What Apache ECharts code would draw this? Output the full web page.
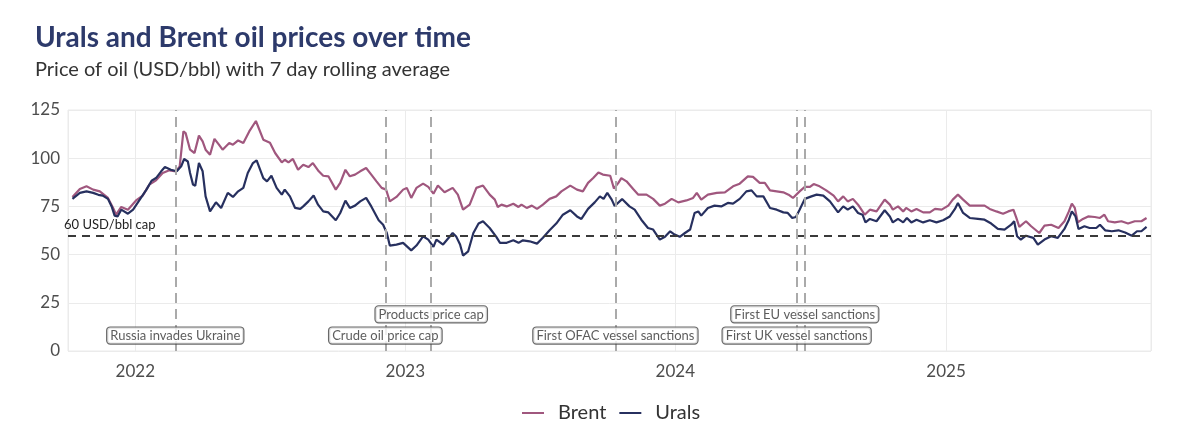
<!DOCTYPE html>
<html>
<head>
<meta charset="utf-8">
<script src="https://cdn.jsdelivr.net/npm/echarts@6/dist/echarts.min.js"></script>
<style>
html,body{margin:0;padding:0;background:#fff;}
#chart{width:1200px;height:441px;}
</style>
</head>
<body>
<div id="chart"></div>
<script>
const brent = [
['2021-10-08',79.9],['2021-10-18',84],['2021-10-27',85.4],['2021-11-05',83.7],['2021-11-14',82.8],['2021-11-25',79.4],['2021-12-02',74.2],['2021-12-06',70.7],['2021-12-13',74.7],['2021-12-22',73.3],
['2022-01-02',78.1],['2022-01-11',80.6],['2022-01-20',86.3],['2022-01-29',88.5],['2022-02-07',92.3],['2022-02-16',93.7],['2022-02-25',93.2],['2022-03-02',95.8],['2022-03-07',113.9],['2022-03-10',113],
['2022-03-16',104.4],['2022-03-22',102.7],['2022-03-28',111.7],['2022-04-02',108.7],['2022-04-06',104.4],['2022-04-12',101.8],['2022-04-18',110],['2022-04-24',107],['2022-04-29',104.4],['2022-05-08',107.9],
['2022-05-13',107],['2022-05-20',109.2],['2022-05-27',107.9],['2022-06-04',113.9],['2022-06-13',119.3],['2022-06-23',109.6],['2022-07-02',108],['2022-07-09',102.7],['2022-07-18',97.8],['2022-07-22',99.2],
['2022-07-27',97.8],['2022-08-02',99.6],['2022-08-09',94],['2022-08-16',96.6],['2022-08-23',95.4],['2022-08-29',97.5],['2022-09-06',93.2],['2022-09-12',90.9],['2022-09-19',90.6],['2022-09-29',83.7],
['2022-10-05',87.2],['2022-10-12',94],['2022-10-18',90.6],['2022-10-25',91.5],['2022-11-01',93.2],['2022-11-09',94.9],['2022-11-16',91.5],['2022-11-23',88],['2022-11-30',84.6],['2022-12-06',83.7],
['2022-12-11',77.6],['2022-12-20',79.9],['2022-12-29',83.7],['2023-01-03',84.6],['2023-01-09',79.4],['2023-01-16',84.6],['2023-01-25',86.8],['2023-02-01',85.1],['2023-02-08',81.6],['2023-02-14',85.8],
['2023-02-23',82.3],['2023-03-06',84.6],['2023-03-13',81.1],['2023-03-20',73.3],['2023-03-29',75.9],['2023-04-07',84.6],['2023-04-16',85.8],['2023-04-25',81.1],['2023-05-02',78.5],['2023-05-06',74.7],
['2023-05-11',75.9],['2023-05-18',75],['2023-05-27',76.4],['2023-06-03',74.7],['2023-06-07',75.9],['2023-06-14',74.2],['2023-06-21',75.4],['2023-06-28',73.7],['2023-07-06',75.9],['2023-07-15',78.9],
['2023-07-24',80.2],['2023-07-31',82.8],['2023-08-12',85.8],['2023-08-21',83.7],['2023-08-29',82.8],['2023-09-05',87.2],['2023-09-12',89.7],['2023-09-19',92.6],['2023-09-25',91.5],['2023-10-05',90.9],
['2023-10-10',84.3],['2023-10-16',87.2],['2023-10-20',89.7],['2023-10-27',88],['2023-11-05',84],['2023-11-12',81.1],['2023-11-23',81.1],['2023-12-02',78.9],['2023-12-11',75.4],['2023-12-18',76.4],
['2023-12-27',78.9],['2024-01-05',77.1],['2024-01-16',78.1],['2024-01-25',79.4],['2024-01-30',82],['2024-02-05',78.5],['2024-02-14',81.1],['2024-02-26',82],['2024-03-08',82.3],['2024-03-19',85.4],
['2024-03-28',86.8],['2024-04-08',90.6],['2024-04-15',90.3],['2024-04-24',87.2],['2024-05-01',87.2],['2024-05-08',83.3],['2024-05-17',82.8],['2024-05-26',82.3],['2024-06-02',81.1],['2024-06-08',79.4],
['2024-06-17',82.8],['2024-06-24',85.1],['2024-07-01',85.1],['2024-07-06',86.6],['2024-07-14',85.4],['2024-07-23',83.3],['2024-08-02',80.6],['2024-08-08',77.6],['2024-08-15',80.2],['2024-08-21',77.6],
['2024-08-28',78.9],['2024-09-04',75.9],['2024-09-13',70.7],['2024-09-20',73.3],['2024-09-29',72.4],['2024-10-10',78.5],['2024-10-17',75.9],['2024-10-21',73.3],['2024-10-28',75],['2024-11-04',72.4],
['2024-11-08',74.2],['2024-11-15',72.4],['2024-11-22',73.7],['2024-12-01',71.9],['2024-12-10',71.9],['2024-12-17',73.7],['2024-12-26',73.3],['2025-01-04',75.4],['2025-01-10',78.5],['2025-01-17',81.1],
['2025-01-24',78.5],['2025-02-02',75.4],['2025-02-13',75.4],['2025-02-22',75.4],['2025-03-01',73.7],['2025-03-10',72.4],['2025-03-19',71.2],['2025-03-26',72.4],['2025-04-02',73.3],['2025-04-06',69],
['2025-04-10',64.4],['2025-04-19',67.3],['2025-04-26',64.7],['2025-05-07',61.2],['2025-05-14',65],['2025-05-23',65.5],['2025-06-02',63.8],['2025-06-10',67.3],['2025-06-16',72.4],['2025-06-20',76.4],
['2025-06-24',74.2],['2025-06-28',66.7],['2025-07-05',68.5],['2025-07-12',69.8],['2025-07-21',69.5],['2025-07-28',69],['2025-08-03',70.7],['2025-08-08',67.3],['2025-08-17',66.7],['2025-08-26',67.3],
['2025-09-04',66.1],['2025-09-13',67.3],['2025-09-22',67.3],['2025-09-29',69]
];

const urals = [
['2021-10-08',78.9],['2021-10-18',82],['2021-10-27',82.8],['2021-11-05',82],['2021-11-12',81],['2021-11-18',80.6],['2021-11-25',78.9],['2021-11-30',75],['2021-12-04',70.2],['2021-12-08',69.8],
['2021-12-13',73.3],['2021-12-22',71.2],['2021-12-29',73.3],['2022-01-07',78.5],['2022-01-16',83.7],['2022-01-23',88.3],['2022-01-29',89.7],['2022-02-05',93.2],['2022-02-10',95.4],['2022-02-18',94],
['2022-02-26',93.2],['2022-03-04',95.8],['2022-03-08',99.6],['2022-03-13',98.3],['2022-03-16',92.3],['2022-03-20',86.3],['2022-03-23',85.7],['2022-03-28',97.5],['2022-04-02',93.2],['2022-04-06',80.2],
['2022-04-12',72.4],['2022-04-20',77.1],['2022-04-27',74.2],['2022-05-06',82],['2022-05-13',79.9],['2022-05-20',82.8],['2022-05-27',84.6],['2022-06-02',92.3],['2022-06-09',97.5],['2022-06-14',98.9],
['2022-06-23',89.7],['2022-06-28',88],['2022-07-04',90.9],['2022-07-11',84.6],['2022-07-18',81.1],['2022-07-22',83.7],['2022-07-29',80.2],['2022-08-05',74.2],['2022-08-12',73.7],['2022-08-16',75],
['2022-08-23',77.6],['2022-08-30',80.6],['2022-09-05',75.9],['2022-09-12',72.4],['2022-09-19',71.9],['2022-09-29',67.8],['2022-10-05',71.6],['2022-10-12',78],['2022-10-18',74.2],['2022-10-25',75.4],
['2022-11-01',77.6],['2022-11-09',79.4],['2022-11-16',75],['2022-11-26',67.8],['2022-12-02',65.5],['2022-12-07',61.2],['2022-12-11',54.7],['2022-12-20',55.2],['2022-12-29',56.1],['2023-01-09',52.2],
['2023-01-16',54.7],['2023-01-25',59.5],['2023-02-01',57.8],['2023-02-08',54],['2023-02-12',57.8],['2023-02-21',55.2],['2023-03-06',61.2],['2023-03-11',59.2],['2023-03-16',55.2],['2023-03-20',49.5],
['2023-03-27',51.7],['2023-04-03',61.2],['2023-04-10',66.1],['2023-04-16',67.3],['2023-04-25',63.8],['2023-05-04',59.2],['2023-05-09',56.1],['2023-05-18',56.1],['2023-05-27',57.4],['2023-06-03',56.1],
['2023-06-09',57.4],['2023-06-18',56.9],['2023-06-28',55.7],['2023-07-06',58.7],['2023-07-15',62.6],['2023-07-24',66.1],['2023-08-02',70.7],['2023-08-12',73],['2023-08-21',69.8],['2023-08-27',68.5],
['2023-09-05',73.7],['2023-09-14',77.1],['2023-09-21',80.2],['2023-09-26',78.9],['2023-10-01',82],['2023-10-07',78.5],['2023-10-11',75.2],['2023-10-21',78.8],['2023-10-31',75],['2023-11-07',73.3],
['2023-11-16',68.1],['2023-11-25',63.8],['2023-12-02',63],['2023-12-11',57.8],['2023-12-18',59.2],['2023-12-25',62.1],['2023-12-31',60.4],['2024-01-07',59.2],['2024-01-14',61.2],['2024-01-21',63],
['2024-01-27',71.6],['2024-02-01',72.4],['2024-02-05',70.2],['2024-02-14',74.2],['2024-02-23',75.4],['2024-03-03',75],['2024-03-12',76.8],['2024-03-19',76.4],['2024-03-28',78.9],['2024-04-06',82.8],
['2024-04-13',83.3],['2024-04-20',80.2],['2024-04-29',80.2],['2024-05-08',74.2],['2024-05-17',73.3],['2024-05-26',71.9],['2024-06-01',71.6],['2024-06-07',69],['2024-06-12',69.5],['2024-06-17',73.3],
['2024-06-24',78.9],['2024-07-03',80.2],['2024-07-10',81.1],['2024-07-19',80.6],['2024-07-28',77.6],['2024-08-08',71.9],['2024-08-15',75],['2024-08-21',73.3],['2024-08-28',75],['2024-09-04',71.6],
['2024-09-10',70.7],['2024-09-14',66.7],['2024-09-20',68.5],['2024-09-29',67.3],['2024-10-10',73],['2024-10-17',69.8],['2024-10-21',66.7],['2024-10-28',68.5],['2024-11-04',66.7],['2024-11-09',69],
['2024-11-15',66.7],['2024-11-22',68.1],['2024-12-01',66.7],['2024-12-10',67.8],['2024-12-19',66.7],['2024-12-28',67.8],['2025-01-06',69.8],['2025-01-13',73.7],['2025-01-17',76.8],['2025-01-24',71.6],
['2025-02-02',69],['2025-02-13',68.5],['2025-02-22',68.1],['2025-03-03',66.1],['2025-03-12',63.3],['2025-03-21',63],['2025-03-30',65.5],['2025-04-03',67.3],['2025-04-07',59.5],['2025-04-12',57.8],
['2025-04-19',59.8],['2025-04-29',58.7],['2025-05-05',55.2],['2025-05-14',57.8],['2025-05-23',59.5],['2025-06-01',58.7],['2025-06-10',63.3],['2025-06-16',68.1],['2025-06-20',72.4],['2025-06-25',69.8],
['2025-06-29',63.3],['2025-07-07',64.7],['2025-07-14',63.8],['2025-07-23',63.8],['2025-07-28',65.5],['2025-08-04',62.6],['2025-08-13',62.1],['2025-08-22',62.6],['2025-08-31',61.5],['2025-09-09',59.8],
['2025-09-16',62.1],['2025-09-22',62.1],['2025-09-29',64.4]
];

const eventDates = ['2022-02-24','2022-12-05','2023-02-05','2023-10-12','2024-06-13','2024-06-24'];
const eventNames = ['Russia invades Ukraine','Crude oil price cap','Products price cap','First OFAC vessel sanctions','First UK vessel sanctions','First EU vessel sanctions'];
const eventLabelY = [8, 8, 19, 8, 8, 19];
const capValue = 60;
const capLabel = '60 USD/bbl cap';
const yTicks = [0, 25, 50, 75, 100, 125];

const FONT = 'Lato, "Noto Sans", sans-serif';
const chart = echarts.init(document.getElementById('chart'));

const eventPoints = eventDates.map((d, i) => ({ value: [d, eventLabelY[i]], name: eventNames[i] }));

chart.setOption({
  animation: false,
  textStyle: { fontFamily: FONT },
  title: {
    left: 30, top: 19,
    text: 'Urals and Brent oil prices over time',
    subtext: 'Price of oil (USD/bbl) with 7 day rolling average',
    itemGap: 8,
    textStyle: { fontFamily: FONT, fontSize: 28, fontWeight: 'bold', color: '#2D3A6B' },
    subtextStyle: { fontFamily: FONT, fontSize: 20, color: '#333333' }
  },
  legend: {
    data: ['Brent', 'Urals'],
    bottom: 13, left: 517,
    icon: 'rect',
    itemWidth: 22, itemHeight: 2, itemGap: 13,
    textStyle: { fontFamily: FONT, fontSize: 20, color: '#333', padding: [0, 0, 0, 9] }
  },
  grid: { left: 68, right: 49, top: 110, bottom: 90, show: true, borderColor: '#ebebeb', borderWidth: 1 },
  xAxis: {
    type: 'time',
    min: '2021-10-02', max: '2025-10-05',
    minInterval: 365 * 86400000, maxInterval: 366 * 86400000,
    axisLine: { show: false }, axisTick: { show: false },
    axisLabel: { formatter: '{yyyy}', fontSize: 17, color: '#4d4d4d', margin: 12, fontFamily: FONT, showMinLabel: false, showMaxLabel: false },
    splitLine: { show: true, lineStyle: { color: '#ebebeb', width: 1 } }
  },
  yAxis: {
    type: 'value', min: yTicks[0], max: yTicks[yTicks.length - 1], interval: 25,
    axisLine: { show: false }, axisTick: { show: false },
    axisLabel: { fontSize: 17, color: '#4d4d4d', margin: 8, fontFamily: FONT },
    splitLine: { lineStyle: { color: '#ebebeb', width: 1 } }
  },
  series: [
    {
      name: 'Brent', type: 'line', data: brent, symbol: 'none', smooth: false,
      lineStyle: { color: '#A0577E', width: 2.2 }, itemStyle: { color: '#A0577E' }, z: 3
    },
    {
      name: 'Urals', type: 'line', data: urals, symbol: 'none', smooth: false,
      lineStyle: { color: '#27305F', width: 2.2 }, itemStyle: { color: '#27305F' }, z: 4,
      markLine: {
        silent: true, symbol: 'none', animation: false,
        lineStyle: { color: '#3a3a3a', width: 1.8, type: [8, 6] },
        label: { show: true, position: 'insideStartTop', formatter: capLabel, fontSize: 13, color: '#222', fontFamily: FONT, distance: [-4, 4] },
        data: [{ yAxis: capValue }]
      }
    },
    {
      name: 'events', type: 'scatter', data: eventPoints, symbolSize: 0, z: 6,
      label: {
        show: true, position: 'inside', formatter: p => p.name,
        fontSize: 13, color: '#333', fontFamily: FONT,
        backgroundColor: '#ffffff', borderColor: '#444', borderWidth: 1.2, borderRadius: 3, padding: [2, 3, 1, 3]
      },
      markLine: {
        silent: true, symbol: 'none', animation: false,
        lineStyle: { color: '#aaaaaa', width: 2, type: [10, 6] },
        label: { show: false },
        data: eventDates.map(d => ({ xAxis: d }))
      }
    }
  ]
});
</script>
</body>
</html>
